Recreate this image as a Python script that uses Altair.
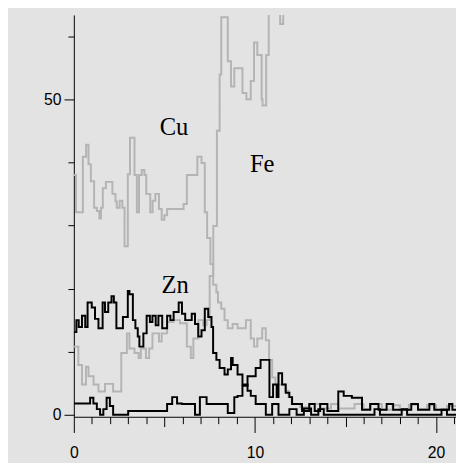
import altair as alt
import pandas as pd

# ---- data ----
cu_x = [0.0, 0.12, 0.5, 0.68, 0.81, 0.94, 1.12, 1.27, 1.41, 1.5, 1.6, 1.77, 2.13, 2.3, 2.37, 2.53, 2.68, 2.8, 2.98, 3.1,
        3.35, 3.48, 3.6, 3.75, 3.9, 4.0, 4.22, 4.35, 4.5, 4.7, 4.85, 5.0, 5.15, 6.06, 6.24, 6.82, 7.05, 7.23, 7.36, 7.54,
        7.69, 7.87, 7.96, 8.14, 8.32, 8.5, 8.77, 9.04, 9.5, 9.77, 9.95, 10.13, 10.4, 10.6, 10.78, 10.95, 11.13, 11.67, 11.85, 12.03,
        12.5, 13.0, 13.6, 14.2, 14.6, 15.5, 16.0, 16.4, 17.0, 17.6, 18.0, 18.5, 19.0, 19.5, 20.0, 20.6, 21.2]
cu_y = [38.0, 32.1, 40.9, 42.8, 39.7, 37.0, 32.8, 32.3, 31.1, 32.8, 35.9, 36.9, 35.0, 33.8, 32.8, 33.9, 32.8, 26.7, 38.1, 43.9,
        38.0, 32.1, 38.0, 38.8, 38.0, 35.0, 32.1, 33.9, 35.0, 32.6, 30.9, 31.6, 32.6, 33.4, 38.0, 40.9, 39.9, 32.1, 28.0, 23.9,
        20.6, 19.4, 17.8, 16.8, 15.0, 13.7, 14.4, 13.7, 15.0, 12.1, 10.8, 12.1, 13.7, 11.8, 8.7, 5.9, 4.8, 3.8, 2.8, 1.7,
        1.2, 1.7, 1.0, 1.7, 1.0, 1.7, 0.9, 1.7, 0.8, 1.5, 0.8, 1.6, 0.9, 1.5, 0.8, 1.4, 1.4]

fe_x = [0.0, 0.25, 0.45, 0.67, 0.81, 1.09, 1.36, 1.72, 2.17, 2.62, 2.93, 3.07, 3.35, 3.58, 3.7, 3.98, 4.16, 4.34, 4.7, 4.85,
        5.15, 5.5, 5.86, 6.24, 6.46, 6.6, 6.87, 7.14, 7.33, 7.5, 7.7, 7.9, 8.05, 8.14, 8.5, 8.68, 8.86, 9.31, 9.53, 9.77,
        9.95, 10.13, 10.37, 10.42, 10.62, 10.76, 11.39, 11.56, 21.2]
fe_y = [10.8, 7.9, 4.8, 7.6, 6.1, 4.8, 3.7, 4.9, 3.7, 9.8, 12.9, 10.5, 9.8, 9.0, 10.5, 9.0, 10.5, 12.9, 11.6, 12.9,
        14.7, 15.0, 14.5, 10.8, 9.0, 12.1, 15.0, 14.2, 15.0, 22.0, 29.9, 45.0, 53.9, 63.0, 56.0, 52.0, 54.9, 51.0, 50.0, 52.9,
        59.0, 57.0, 50.0, 49.0, 57.0, 75.0, 61.9, 75.0, 75.0]

zn_x = [0.0, 0.14, 0.27, 0.45, 0.63, 0.76, 0.99, 1.17, 1.36, 1.59, 1.72, 1.9, 2.08, 2.21, 2.35, 2.71, 2.98, 3.07, 3.26, 3.4,
        3.53, 3.62, 3.84, 4.02, 4.2, 4.34, 4.52, 4.67, 4.88, 5.15, 5.33, 5.51, 5.79, 5.97, 6.15, 6.51, 6.69, 6.87, 7.05, 7.23,
        7.42, 7.6, 7.69, 7.87, 8.05, 8.32, 8.5, 8.68, 8.77, 9.04, 9.31, 9.59, 9.77, 10.04, 10.6, 10.95, 11.3, 11.9, 12.3, 12.7,
        13.1, 13.5, 13.8, 16.6, 16.9, 18.1, 18.4, 20.3, 20.6, 21.2]
zn_y = [13.1, 15.0, 13.9, 15.7, 13.9, 17.8, 17.0, 15.2, 13.7, 17.8, 16.3, 17.8, 18.8, 17.8, 13.7, 15.5, 19.6, 19.1, 15.0, 13.7,
        12.4, 10.8, 12.9, 15.7, 14.7, 15.7, 14.2, 15.7, 13.7, 15.7, 15.0, 16.3, 17.8, 16.0, 15.0, 16.0, 14.4, 12.4, 13.4, 16.8,
        15.5, 13.9, 9.8, 8.7, 7.4, 6.4, 7.2, 9.0, 7.9, 6.4, 4.8, 3.8, 3.0, 1.7, 0.0, 1.7, 0.0, 0.9, 0.0, 1.0,
        0.0, 0.9, 0.0, 0.9, 0.0, 0.9, 0.0, 0.8, 0.0, 0.0]

bk_x = [0.0, 0.9, 1.08, 1.27, 1.45, 1.63, 1.81, 1.99, 2.17, 3.0, 5.15, 5.43, 5.7, 5.97, 6.69, 6.96, 7.33, 8.5, 8.86, 9.04,
        9.31, 9.59, 10.04, 10.31, 10.8, 11.0, 11.2, 11.3, 11.5, 11.7, 11.9, 12.05, 12.6, 13.0, 13.3, 13.6, 14.0, 14.6, 14.9, 15.35,
        15.91, 16.36, 16.82, 17.27, 17.63, 18.63, 19.0, 19.63, 19.9, 20.72, 20.9, 21.2]
bk_y = [1.8, 2.7, 1.8, 0.9, 0.0, 0.9, 2.7, 1.4, 0.0, 0.6, 1.7, 2.8, 1.8, 1.7, 0.0, 2.8, 1.7, 0.3, 2.8, 3.0,
        4.6, 6.1, 7.4, 8.7, 2.8, 4.8, 2.8, 6.6, 4.8, 3.5, 2.8, 1.7, 0.6, 1.7, 0.6, 1.7, 0.6, 3.7, 3.0, 2.7,
        0.8, 1.7, 0.8, 1.7, 0.8, 1.7, 0.8, 1.7, 0.8, 1.7, 0.8, 0.8]

label_text = ["Cu", "Fe", "Zn"]
label_x = [5.53, 10.4, 5.6]
label_y = [44.3, 38.4, 19.3]

x_tick_values = list(range(0, 22))
y_tick_values = [0, 10, 20, 30, 40, 50, 60]

series_order = ["Cu", "Fe", "Zn", "Pb"]
series_colors = ["#b4b4b4", "#b4b4b4", "#000000", "#000000"]

frames = []
for name, xs, ys in [("Cu", cu_x, cu_y), ("Fe", fe_x, fe_y), ("Zn", zn_x, zn_y), ("Pb", bk_x, bk_y)]:
    frames.append(pd.DataFrame({"series": name, "x": xs, "y": ys}))
df = pd.concat(frames, ignore_index=True)
labels = pd.DataFrame({"text": label_text, "x": label_x, "y": label_y})

xscale = alt.Scale(domain=[0, 21.1], nice=False, zero=False)
yscale = alt.Scale(domain=[-0.31, 63.35], nice=False, zero=False)

x_axis = alt.Axis(
    values=x_tick_values,
    labelExpr="(datum.value === 0 || datum.value === 10 || datum.value === 20) ? datum.label : ''",
    labelOverlap=False, labelFlush=False, labelBound=False,
    tickSize={"condition": [{"test": "datum.value % 10 === 0", "value": 16},
                            {"test": "datum.value % 5 === 0", "value": 10}], "value": 7},
    labelPadding=12, title=None, grid=False,
)
y_axis = alt.Axis(
    values=y_tick_values,
    labelExpr="(datum.value === 0 || datum.value === 50) ? datum.label : ''",
    labelOverlap=False, labelFlush=False, labelBound=False,
    tickSize={"condition": {"test": "datum.value % 50 === 0", "value": 10}, "value": 6},
    labelPadding=3, title=None, grid=False,
)

lines = alt.Chart(df).mark_line(interpolate="step-after", clip=True, strokeWidth=2).encode(
    x=alt.X("x:Q", scale=xscale, axis=x_axis),
    y=alt.Y("y:Q", scale=yscale, axis=y_axis),
    color=alt.Color("series:N", scale=alt.Scale(domain=series_order, range=series_colors), legend=None),
    detail="series:N",
    order=alt.Order("x:Q"),
)

text = alt.Chart(labels).mark_text(
    font="Liberation Serif", fontSize=25, color="#000000", align="center", baseline="alphabetic"
).encode(
    x=alt.X("x:Q", scale=xscale, axis=x_axis),
    y=alt.Y("y:Q", scale=yscale, axis=y_axis),
    text="text:N",
)

chart = alt.layer(lines, text).properties(
    width=389, height=409,
    padding={"left": 67, "top": 3, "right": 0, "bottom": 43},
    autosize=alt.AutoSizeParams(type="none"),
    background="#e3e3e3",
).configure_view(stroke=None).configure_axis(
    domainColor="#000000", domainWidth=1, tickColor="#000000", tickWidth=1,
    labelColor="#000000", labelFont="Liberation Sans", labelFontSize=16,
)

chart.save("out.html", embed_options={"renderer": "svg", "actions": False})
